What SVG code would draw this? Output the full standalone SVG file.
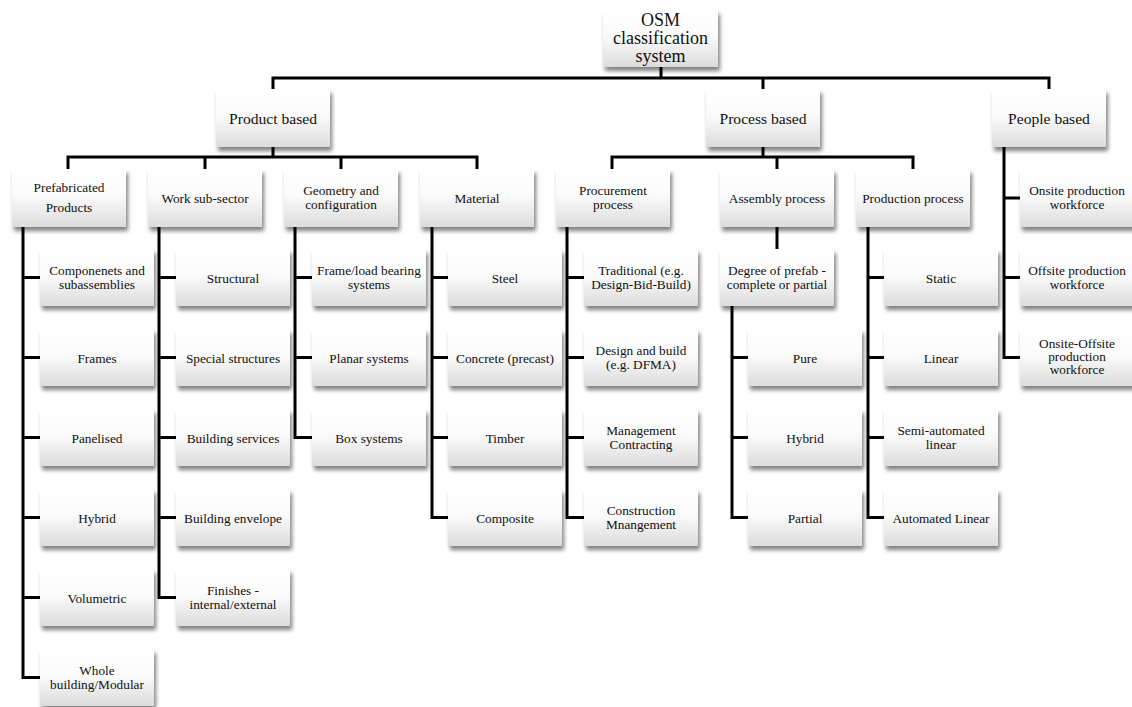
<svg xmlns="http://www.w3.org/2000/svg" width="1132" height="707" viewBox="0 0 1132 707">
<style>
.b{fill:url(#g);filter:url(#sh)}
text{font-family:"Liberation Serif","Times New Roman",serif;fill:#111;text-anchor:middle}
.t{font-size:13.3px}
.l1{font-size:15.6px}
.top{font-size:18px}
.c{fill:none;stroke:#000;stroke-width:3;stroke-linejoin:miter}
</style>
<defs>
<linearGradient id="g" x1="0" y1="0" x2="0" y2="1">
<stop offset="0" stop-color="#ffffff"/>
<stop offset="0.45" stop-color="#fbfbfb"/>
<stop offset="1" stop-color="#dcdcdc"/>
</linearGradient>
<filter id="sh" x="-10%" y="-10%" width="125%" height="140%">
<feGaussianBlur in="SourceAlpha" stdDeviation="2"/>
<feOffset dx="2" dy="4" result="o"/>
<feComponentTransfer><feFuncA type="linear" slope="0.5"/></feComponentTransfer>
<feMerge><feMergeNode/><feMergeNode in="SourceGraphic"/></feMerge>
</filter>
</defs>
<rect width="1132" height="707" fill="#fff"/>
<g id="connectors" class="c">
<path d="M661 67V78M273 89V78H1049V89M763 78V89"/>
<path d="M273 147V157M68 169V157H477V169M205 157V169M341 157V169"/>
<path d="M763 147V157M612 169V157H913V169M777 157V169"/>
<path d="M1004 147V357.5H1020M1004 198H1020M1004 277.5H1020"/>
<path d="M23 227V677.5H40M23 277.5H40M23 357.5H40M23 437.5H40M23 517.5H40M23 597.5H40"/>
<path d="M159 227V597.5H176M159 277.5H176M159 357.5H176M159 437.5H176M159 517.5H176"/>
<path d="M295 227V437.5H312M295 277.5H312M295 357.5H312"/>
<path d="M432 227V517.5H448M432 277.5H448M432 357.5H448M432 437.5H448"/>
<path d="M567 227V517.5H584M567 277.5H584M567 357.5H584M567 437.5H584"/>
<path d="M777 227V249M732 306V517.5H748M732 357.5H748M732 437.5H748"/>
<path d="M868 227V517.5H884M868 277.5H884M868 357.5H884M868 437.5H884"/>
</g>
<g id="n-osm"><rect class="b" x="603" y="10" width="115" height="57"/><text class="top" x="660.5" y="26">OSM</text><text class="top" x="660.5" y="44">classification</text><text class="top" x="660.5" y="62">system</text></g>
<g id="n-product"><rect class="b" x="216" y="89" width="114" height="58"/><text class="l1" x="273" y="123.5">Product based</text></g>
<g id="n-process"><rect class="b" x="706" y="89" width="114" height="58"/><text class="l1" x="763" y="123.5">Process based</text></g>
<g id="n-people"><rect class="b" x="992" y="89" width="114" height="58"/><text class="l1" x="1049" y="123.5">People based</text></g>

<g id="n-prefab"><rect class="b" x="12" y="169" width="114" height="58"/><text class="t" x="69" y="192">Prefabricated</text><text class="t" x="69" y="212">Products</text></g>
<g id="n-work"><rect class="b" x="148" y="169" width="114" height="58"/><text class="t" x="205" y="203">Work sub-sector</text></g>
<g id="n-geometry"><rect class="b" x="284" y="169" width="114" height="58"/><text class="t" x="341" y="195">Geometry and</text><text class="t" x="341" y="209">configuration</text></g>
<g id="n-material"><rect class="b" x="420" y="169" width="114" height="58"/><text class="t" x="477" y="203">Material</text></g>
<g id="n-procurement"><rect class="b" x="556" y="169" width="114" height="58"/><text class="t" x="613" y="195">Procurement</text><text class="t" x="613" y="209">process</text></g>
<g id="n-assembly"><rect class="b" x="720" y="169" width="114" height="58"/><text class="t" x="777" y="203">Assembly process</text></g>
<g id="n-production"><rect class="b" x="856" y="169" width="114" height="58"/><text class="t" x="913" y="203">Production process</text></g>
<g id="n-onsite"><rect class="b" x="1020" y="169" width="114" height="58"/><text class="t" x="1077" y="195">Onsite production</text><text class="t" x="1077" y="209">workforce</text></g>
<g id="n-offsite"><rect class="b" x="1020" y="249" width="114" height="57"/><text class="t" x="1077" y="275">Offsite production</text><text class="t" x="1077" y="289">workforce</text></g>
<g id="n-onoff"><rect class="b" x="1020" y="329" width="114" height="57"/><text class="t" x="1077" y="348">Onsite-Offsite</text><text class="t" x="1077" y="361">production</text><text class="t" x="1077" y="374">workforce</text></g>

<g id="n-components"><rect class="b" x="40" y="249" width="114" height="57"/><text class="t" x="97" y="275">Componenets and</text><text class="t" x="97" y="289">subassemblies</text></g>
<g id="n-frames"><rect class="b" x="40" y="329" width="114" height="57"/><text class="t" x="97" y="362.5">Frames</text></g>
<g id="n-panelised"><rect class="b" x="40" y="409" width="114" height="57"/><text class="t" x="97" y="442.5">Panelised</text></g>
<g id="n-hybrid1"><rect class="b" x="40" y="489" width="114" height="57"/><text class="t" x="97" y="522.5">Hybrid</text></g>
<g id="n-volumetric"><rect class="b" x="40" y="569" width="114" height="57"/><text class="t" x="97" y="602.5">Volumetric</text></g>
<g id="n-whole"><rect class="b" x="40" y="649" width="114" height="57"/><text class="t" x="97" y="675">Whole</text><text class="t" x="97" y="689">building/Modular</text></g>

<g id="n-structural"><rect class="b" x="176" y="249" width="114" height="57"/><text class="t" x="233" y="282.5">Structural</text></g>
<g id="n-special"><rect class="b" x="176" y="329" width="114" height="57"/><text class="t" x="233" y="362.5">Special structures</text></g>
<g id="n-services"><rect class="b" x="176" y="409" width="114" height="57"/><text class="t" x="233" y="442.5">Building services</text></g>
<g id="n-envelope"><rect class="b" x="176" y="489" width="114" height="57"/><text class="t" x="233" y="522.5">Building envelope</text></g>
<g id="n-finishes"><rect class="b" x="176" y="569" width="114" height="57"/><text class="t" x="233" y="595">Finishes -</text><text class="t" x="233" y="609">internal/external</text></g>

<g id="n-frameload"><rect class="b" x="312" y="249" width="114" height="57"/><text class="t" x="369" y="275">Frame/load bearing</text><text class="t" x="369" y="289">systems</text></g>
<g id="n-planar"><rect class="b" x="312" y="329" width="114" height="57"/><text class="t" x="369" y="362.5">Planar systems</text></g>
<g id="n-box"><rect class="b" x="312" y="409" width="114" height="57"/><text class="t" x="369" y="442.5">Box systems</text></g>

<g id="n-steel"><rect class="b" x="448" y="249" width="114" height="57"/><text class="t" x="505" y="282.5">Steel</text></g>
<g id="n-concrete"><rect class="b" x="448" y="329" width="114" height="57"/><text class="t" x="505" y="362.5">Concrete (precast)</text></g>
<g id="n-timber"><rect class="b" x="448" y="409" width="114" height="57"/><text class="t" x="505" y="442.5">Timber</text></g>
<g id="n-composite"><rect class="b" x="448" y="489" width="114" height="57"/><text class="t" x="505" y="522.5">Composite</text></g>

<g id="n-traditional"><rect class="b" x="584" y="249" width="114" height="57"/><text class="t" x="641" y="275">Traditional (e.g.</text><text class="t" x="641" y="289">Design-Bid-Build)</text></g>
<g id="n-designbuild"><rect class="b" x="584" y="329" width="114" height="57"/><text class="t" x="641" y="355">Design and build</text><text class="t" x="641" y="369">(e.g. DFMA)</text></g>
<g id="n-management"><rect class="b" x="584" y="409" width="114" height="57"/><text class="t" x="641" y="435">Management</text><text class="t" x="641" y="449">Contracting</text></g>
<g id="n-construction"><rect class="b" x="584" y="489" width="114" height="57"/><text class="t" x="641" y="515">Construction</text><text class="t" x="641" y="529">Mnangement</text></g>

<g id="n-degree"><rect class="b" x="720" y="249" width="114" height="57"/><text class="t" x="777" y="275">Degree of prefab -</text><text class="t" x="777" y="289">complete or partial</text></g>
<g id="n-pure"><rect class="b" x="748" y="329" width="114" height="57"/><text class="t" x="805" y="362.5">Pure</text></g>
<g id="n-hybrid2"><rect class="b" x="748" y="409" width="114" height="57"/><text class="t" x="805" y="442.5">Hybrid</text></g>
<g id="n-partial"><rect class="b" x="748" y="489" width="114" height="57"/><text class="t" x="805" y="522.5">Partial</text></g>

<g id="n-static"><rect class="b" x="884" y="249" width="114" height="57"/><text class="t" x="941" y="282.5">Static</text></g>
<g id="n-linear"><rect class="b" x="884" y="329" width="114" height="57"/><text class="t" x="941" y="362.5">Linear</text></g>
<g id="n-semi"><rect class="b" x="884" y="409" width="114" height="57"/><text class="t" x="941" y="435">Semi-automated</text><text class="t" x="941" y="449">linear</text></g>
<g id="n-automated"><rect class="b" x="884" y="489" width="114" height="57"/><text class="t" x="941" y="522.5">Automated Linear</text></g>
</svg>
